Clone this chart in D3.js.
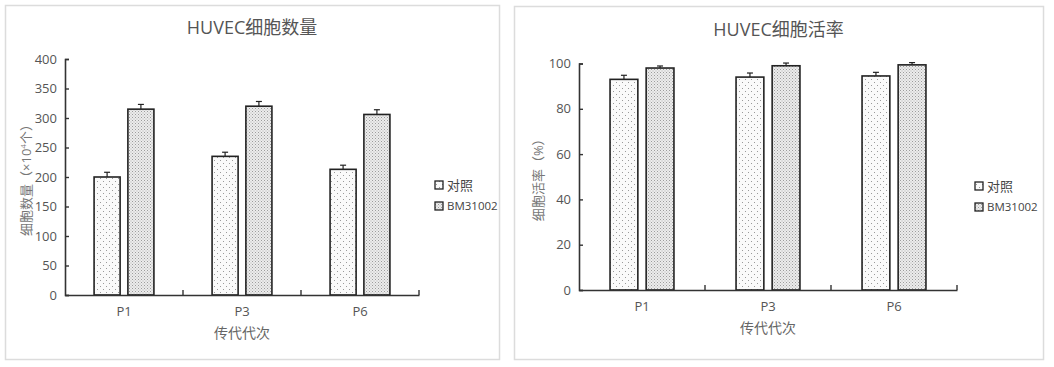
<!DOCTYPE html>
<html><head><meta charset="utf-8">
<script src="https://cdn.jsdelivr.net/npm/d3@7"></script>
<style>
html,body{margin:0;padding:0;background:#fff;}
svg{display:block;}
text{font-family:"Open Sans","Noto Sans CJK SC",sans-serif;}
</style></head>
<body>
<svg id="chart" width="1054" height="367"></svg>
<script>
// ---- data ----
const categories = ["P1", "P3", "P6"];
const seriesNames = ["对照", "BM31002"];

const countControl = [200, 235, 213];
const countControlErr = [8, 7, 7];
const countBM = [315, 320, 306];
const countBMErr = [8, 8, 8];
const countTicks = [0, 50, 100, 150, 200, 250, 300, 350, 400];

const viabilityControl = [93, 94, 94.5];
const viabilityControlErr = [1.8, 1.8, 1.6];
const viabilityBM = [98, 99, 99.4];
const viabilityBMErr = [0.9, 1.2, 1.0];
const viabilityTicks = [0, 20, 40, 60, 80, 100];

const titleCount = "HUVEC细胞数量";
const titleViability = "HUVEC细胞活率";
const xTitle = "传代代次";

// ---- drawing ----
const svg = d3.select("#chart");
const defs = svg.append("defs");

const p1 = defs.append("pattern").attr("id", "patCtrl").attr("patternUnits", "userSpaceOnUse")
  .attr("width", 6).attr("height", 6);
p1.append("rect").attr("width", 6).attr("height", 6).attr("fill", "#fafafa");
p1.append("rect").attr("x", 1).attr("y", 1).attr("width", 1).attr("height", 1).attr("fill", "#9a9a9a");
p1.append("rect").attr("x", 4).attr("y", 4).attr("width", 1).attr("height", 1).attr("fill", "#9a9a9a");

const p2 = defs.append("pattern").attr("id", "patBM").attr("patternUnits", "userSpaceOnUse")
  .attr("width", 3).attr("height", 3);
p2.append("rect").attr("width", 3).attr("height", 3).attr("fill", "#ececec");
p2.append("rect").attr("x", 0).attr("y", 0).attr("width", 1).attr("height", 1).attr("fill", "#9c9c9c");
p2.append("rect").attr("x", 1.5).attr("y", 1.5).attr("width", 1).attr("height", 1).attr("fill", "#b0b0b0");

const fills = ["url(#patCtrl)", "url(#patBM)"];

function drawPanel(cfg) {
  const g = svg.append("g");
  // panel border
  g.append("rect").attr("x", cfg.panel[0] + 0.5).attr("y", cfg.panel[1] + 0.5)
    .attr("width", cfg.panel[2] - cfg.panel[0]).attr("height", cfg.panel[3] - cfg.panel[1])
    .attr("fill", "#fff").attr("stroke", "#dcdcdc").attr("stroke-width", 1.5);

  const x0 = d3.scaleBand().domain(categories).range([cfg.left, cfg.right]).padding(0);
  const x1 = d3.scaleBand().domain(seriesNames).range([0, x0.bandwidth()])
    .paddingInner(0.23).paddingOuter(0.86);
  const y = d3.scaleLinear().domain([0, cfg.ticks[cfg.ticks.length - 1]]).range([cfg.bottom, cfg.top]);

  // title
  g.append("text").attr("x", (cfg.panel[0] + cfg.panel[2]) / 2).attr("y", cfg.titleY)
    .attr("text-anchor", "middle").attr("font-size", 18).attr("fill", "#555").text(cfg.title);

  // bars
  const series = [
    {name: seriesNames[0], vals: cfg.ctrl, errs: cfg.ctrlErr, fill: fills[0]},
    {name: seriesNames[1], vals: cfg.bm, errs: cfg.bmErr, fill: fills[1]}
  ];
  series.forEach(s => {
    categories.forEach((c, i) => {
      const bx = x0(c) + x1(s.name);
      const bw = x1.bandwidth();
      const cx = bx + bw / 2;
      // error bar
      g.append("line").attr("x1", cx).attr("x2", cx)
        .attr("y1", y(s.vals[i])).attr("y2", y(s.vals[i] + s.errs[i]))
        .attr("stroke", "#222").attr("stroke-width", 1.2);
      g.append("line").attr("x1", cx - 3).attr("x2", cx + 3)
        .attr("y1", y(s.vals[i] + s.errs[i])).attr("y2", y(s.vals[i] + s.errs[i]))
        .attr("stroke", "#222").attr("stroke-width", 1.2);
      g.append("rect").attr("x", bx).attr("y", y(s.vals[i]))
        .attr("width", bw).attr("height", y(0) - y(s.vals[i]))
        .attr("fill", s.fill).attr("stroke", "#222").attr("stroke-width", 1.6);
    });
  });

  // y axis
  const yAxis = d3.axisLeft(y).tickValues(cfg.ticks).tickSize(-4).tickPadding(8);
  const ya = g.append("g").attr("transform", `translate(${cfg.left},0)`).call(yAxis);
  ya.select(".domain").attr("stroke", "#333").attr("stroke-width", 1.6);
  ya.selectAll(".tick line").attr("stroke", "#333").attr("stroke-width", 1.4);
  ya.selectAll(".tick text").attr("font-size", 13).attr("fill", "#555")
    .style("font-family", '"Open Sans","Noto Sans CJK SC",sans-serif');

  // x axis
  const xAxis = d3.axisBottom(x0).tickSize(0).tickPadding(12);
  const xa = g.append("g").attr("transform", `translate(0,${cfg.bottom})`).call(xAxis);
  xa.select(".domain").attr("stroke", "#333").attr("stroke-width", 1.6);
  xa.selectAll(".tick text").attr("font-size", 13).attr("fill", "#555")
    .style("font-family", '"Open Sans","Noto Sans CJK SC",sans-serif');
  // boundary ticks (inside, upward)
  const bounds = categories.map(c => x0(c)).concat([x0(categories[categories.length - 1]) + x0.bandwidth()]);
  g.selectAll(null).data(bounds.slice(1)).enter().append("line")
    .attr("x1", d => d).attr("x2", d => d).attr("y1", cfg.bottom).attr("y2", cfg.bottom - 5)
    .attr("stroke", "#333").attr("stroke-width", 1.4);

  // x title
  g.append("text").attr("x", (cfg.left + cfg.right) / 2).attr("y", cfg.bottom + 43)
    .attr("text-anchor", "middle").attr("font-size", 14).attr("fill", "#666").text(xTitle);

  // y title
  const yt = g.append("text")
    .attr("transform", `translate(${cfg.yTitleX},${(cfg.top + cfg.bottom) / 2}) rotate(-90)`)
    .attr("text-anchor", "middle").attr("font-size", 13).attr("fill", "#777");
  cfg.yTitle.forEach(part => {
    const t = yt.append("tspan").text(part.t);
    if (part.sup) t.attr("font-size", 8).attr("dy", -5);
    if (part.after) t.attr("dy", 5);
  });

  // legend
  series.forEach((s, i) => {
    const ly = cfg.legendY + i * 21;
    g.append("rect").attr("x", cfg.legendX).attr("y", ly - 4).attr("width", 8).attr("height", 8)
      .attr("fill", s.fill).attr("stroke", "#222").attr("stroke-width", 1.3);
    g.append("text").attr("x", cfg.legendX + 12).attr("y", ly).attr("dy", "0.35em")
      .attr("font-size", i === 0 ? 13 : 11.5).attr("fill", "#444").text(s.name);
  });
}

drawPanel({
  panel: [5, 5, 499, 359], left: 65, right: 419, top: 59, bottom: 295,
  ticks: countTicks, ctrl: countControl, ctrlErr: countControlErr, bm: countBM, bmErr: countBMErr,
  title: titleCount, titleY: 34, yTitleX: 31,
  yTitle: [{t: "细胞数量（×10"}, {t: "4", sup: true}, {t: "个）", after: true}],
  legendX: 435, legendY: 185
});

drawPanel({
  panel: [514, 6, 1043, 359], left: 579, right: 957, top: 63.5, bottom: 290,
  ticks: viabilityTicks, ctrl: viabilityControl, ctrlErr: viabilityControlErr, bm: viabilityBM, bmErr: viabilityBMErr,
  title: titleViability, titleY: 36, yTitleX: 543,
  yTitle: [{t: "细胞活率（%）"}],
  legendX: 975, legendY: 186
});
</script>
</body></html>
